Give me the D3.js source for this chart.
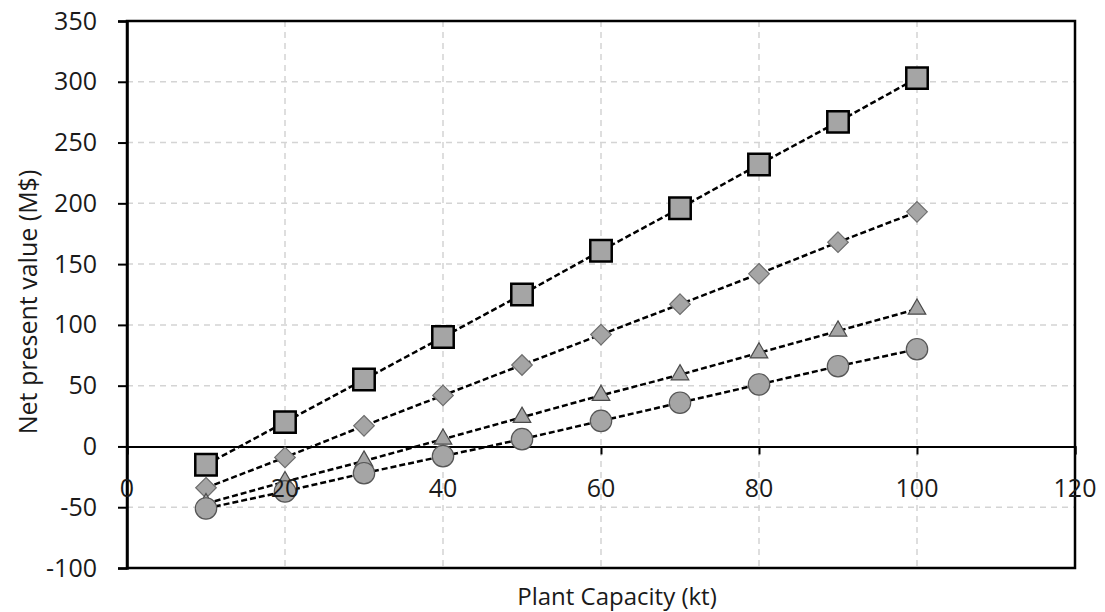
<!DOCTYPE html>
<html>
<head>
<meta charset="utf-8">
<script src="https://cdn.jsdelivr.net/npm/d3@7"></script>
<style>
  body { margin: 0; background: #fff; }
  text { font-family: "Open Sans", "Noto Sans", sans-serif; fill: #1a1a1a; }
</style>
</head>
<body>
<svg id="chart" width="1105" height="612"></svg>
<script>
// data
const capacity = [10, 20, 30, 40, 50, 60, 70, 80, 90, 100];
const squareSeries = [-15, 20, 55, 90, 125, 161, 196, 232, 267, 303];
const diamondSeries = [-34, -9, 17, 42, 67, 92, 117, 142, 168, 193];
const triangleSeries = [-47, -29, -12, 6, 24, 42, 59, 77, 95, 113];
const circleSeries = [-51, -37, -22, -8, 6, 21, 36, 51, 66, 80];
const xTicks = [0, 20, 40, 60, 80, 100, 120];
const yTicks = [-100, -50, 0, 50, 100, 150, 200, 250, 300, 350];

const plotLeft = 127, plotRight = 1075, plotTop = 21, plotBottom = 568;
const tickFont = 25;
const titleFont = 24;

const x = d3.scaleLinear().domain([0, 120]).range([plotLeft, plotRight]);
const y = d3.scaleLinear().domain([-100, 350]).range([plotBottom, plotTop]);

const svg = d3.select("#chart");

// grid
svg.append("g").selectAll("line")
  .data(yTicks.filter(d => d !== 0 && d !== 350 && d !== -100)).enter()
  .append("line")
  .attr("x1", plotLeft).attr("x2", plotRight)
  .attr("y1", d => y(d)).attr("y2", d => y(d))
  .attr("stroke", "#d4d4d4").attr("stroke-width", 1.5)
  .attr("stroke-dasharray", "6,5");

svg.append("g").selectAll("line")
  .data(xTicks.filter(d => d !== 0 && d !== 120)).enter()
  .append("line")
  .attr("x1", d => x(d)).attr("x2", d => x(d))
  .attr("y1", plotTop).attr("y2", plotBottom)
  .attr("stroke", "#d4d4d4").attr("stroke-width", 1.5)
  .attr("stroke-dasharray", "6,5");

// frame
svg.append("rect")
  .attr("x", plotLeft).attr("y", plotTop)
  .attr("width", plotRight - plotLeft).attr("height", plotBottom - plotTop)
  .attr("fill", "none").attr("stroke", "#000").attr("stroke-width", 2.5);

// y axis
const yAxis = svg.append("g")
  .attr("transform", `translate(${plotLeft},0)`)
  .call(d3.axisLeft(y).tickValues(yTicks).tickSize(9).tickPadding(21)
    .tickFormat(d => String(d)));
yAxis.select(".domain").attr("stroke", "#000").attr("stroke-width", 2.5);
yAxis.selectAll(".tick line").attr("stroke", "#000").attr("stroke-width", 2);
yAxis.selectAll(".tick text").attr("font-size", tickFont).attr("fill", "#1a1a1a")
  .attr("font-family", "'Open Sans', 'Noto Sans', sans-serif");

// x axis crossing at zero
const xAxis = svg.append("g")
  .attr("transform", `translate(0,${y(0)})`)
  .call(d3.axisBottom(x).tickValues(xTicks).tickSize(8).tickFormat(() => ""));
xAxis.select(".domain").attr("stroke", "#000").attr("stroke-width", 2);
xAxis.selectAll(".tick line").attr("stroke", "#000").attr("stroke-width", 2);

// series
const series = [
  { values: squareSeries, symbol: d3.symbolSquare, size: 460, stroke: "#000", sw: 2.5 },
  { values: diamondSeries, symbol: d3.symbolDiamond2, size: 270, stroke: "#6e6e6e", sw: 1.2 },
  { values: triangleSeries, symbol: d3.symbolTriangle2, size: 220, stroke: "#4a4a4a", sw: 1.2 },
  { values: circleSeries, symbol: d3.symbolCircle, size: 360, stroke: "#555", sw: 1.2 }
];

const line = d3.line().x((d, i) => x(capacity[i])).y(d => y(d));

series.forEach(s => {
  svg.append("path")
    .datum(s.values)
    .attr("d", line)
    .attr("fill", "none")
    .attr("stroke", "#000")
    .attr("stroke-width", 2.5)
    .attr("stroke-dasharray", "6,3");
});

series.forEach(s => {
  svg.append("g").selectAll("path")
    .data(s.values).enter()
    .append("path")
    .attr("transform", (d, i) => `translate(${x(capacity[i])},${y(d)})`)
    .attr("d", d3.symbol().type(s.symbol).size(s.size))
    .attr("fill", "#a5a5a5")
    .attr("stroke", s.stroke)
    .attr("stroke-width", s.sw);
});

// x tick labels drawn on top
svg.append("g").selectAll("text")
  .data(xTicks).enter()
  .append("text")
  .attr("x", d => x(d))
  .attr("y", y(0) + 51)
  .attr("text-anchor", "middle")
  .attr("font-size", tickFont)
  .text(d => d);

// axis titles
svg.append("text")
  .attr("x", 617)
  .attr("y", 605)
  .attr("text-anchor", "middle")
  .attr("font-size", titleFont)
  .text("Plant Capacity (kt)");

svg.append("text")
  .attr("transform", `translate(37,302) rotate(-90)`)
  .attr("text-anchor", "middle")
  .attr("font-size", 25)
  .text("Net present value (M$)");
</script>
</body>
</html>
